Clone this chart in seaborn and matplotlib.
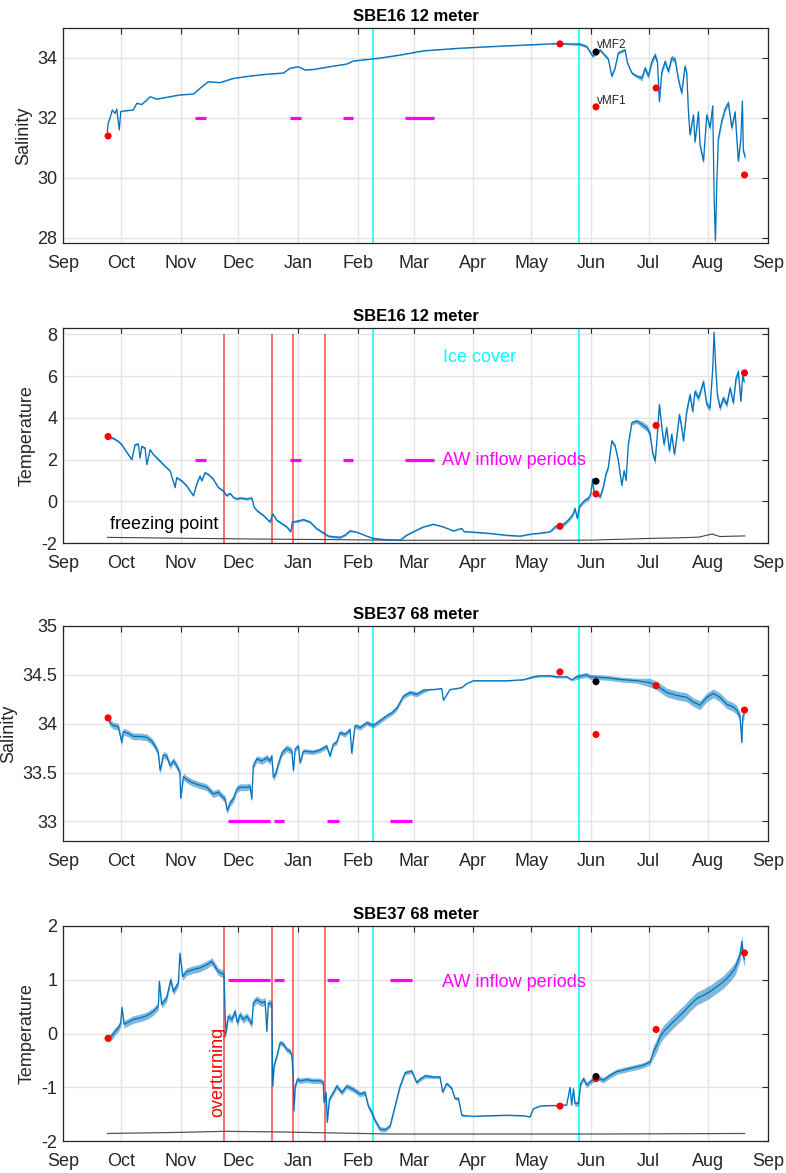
import numpy as np
import pandas as pd
import matplotlib
matplotlib.use("Agg")
import matplotlib.pyplot as plt
import matplotlib.dates as mdates
from matplotlib.ticker import FuncFormatter
import seaborn as sns

# ---------------------------------------------------------------- time axis
START = pd.Timestamp("2015-09-01")
END = pd.Timestamp("2016-09-01")

# ---------------------------------------------------------------- SBE16, 12 m salinity (days since 1 Sep)
sal12_day = [23.0, 23.5, 24.4, 25.6, 27.0, 27.9, 29.2, 30.0, 36.5, 38.3, 40.9, 43.5, 45.2, 48.7, 53.8,
             60.7, 67.7, 71.1, 75.4, 81.5, 88.4, 97.1, 105.8, 114.4, 117.9, 122.2, 125.6, 130.0, 140.3,
             147.3, 150.7, 157.7, 164.6, 175.0, 182.8, 187.1, 204.4, 221.7, 239.0, 256.3, 268.4, 271.9,
             275.0, 278.8, 283.1, 284.9, 286.6, 288.3, 291.8, 293.0, 295.3, 297.9, 300.5, 302.2, 303.9,
             305.7, 307.4, 308.6, 309.6, 310.9, 312.6, 314.3, 316.0, 317.8, 319.5, 321.2, 322.9, 323.8,
             324.7, 325.5, 327.3, 328.1, 329.9, 330.7, 332.5, 334.2, 335.9, 337.3, 338.0, 338.7, 339.4,
             340.2, 342.0, 343.7, 345.4, 347.2, 348.9, 350.6, 351.9, 352.7, 353.2, 354.1]
sal12_val = [31.53, 31.83, 32.0, 32.27, 32.15, 32.3, 31.6, 32.22, 32.27, 32.49, 32.45, 32.6, 32.71, 32.63,
             32.69, 32.77, 32.8, 32.99, 33.21, 33.18, 33.32, 33.4, 33.46, 33.5, 33.66, 33.71, 33.6, 33.62,
             33.73, 33.8, 33.9, 33.95, 34.0, 34.1, 34.19, 34.24, 34.32, 34.38, 34.43, 34.48, 34.46, 34.38,
             34.06, 34.27, 33.96, 33.39, 33.67, 34.17, 34.27, 33.84, 33.5, 33.39, 33.33, 33.66, 33.4,
             33.88, 34.1, 33.85, 32.55, 33.55, 33.88, 33.55, 34.0, 33.94, 33.28, 32.83, 33.72, 33.5,
             32.2, 31.44, 32.1, 31.2, 32.2, 31.1, 30.56, 32.1, 31.67, 32.4, 29.44, 27.9, 29.8, 31.3,
             31.9, 32.3, 32.5, 31.67, 32.2, 30.56, 31.3, 32.56, 30.9, 30.7]
sal12_spread_edges = [0, 265, 300, 400]
sal12_spread = [0.015, 0.05, 0.1]

# ---------------------------------------------------------------- SBE16, 12 m temperature
tem12_day = [23.2, 26.1, 28.7, 30.5, 32.2, 33.9, 35.7, 37.4, 39.1, 40.0, 40.9, 42.6, 43.5, 45.2, 46.9,
             48.7, 52.1, 55.6, 58.2, 59.0, 61.6, 64.2, 65.9, 67.7, 69.4, 71.1, 72.0, 73.7, 75.4, 78.0,
             80.6, 83.2, 84.9, 86.7, 88.4, 90.2, 91.9, 95.4, 98.0, 99.2, 100.6, 104.0, 107.5, 108.9,
             111.0, 113.6, 116.2, 118.2, 119.1, 121.3, 124.8, 128.2, 131.7, 135.1, 137.7, 140.3, 143.8,
             146.4, 149.0, 151.6, 154.2, 157.7, 161.1, 166.3, 175.0, 178.5, 182.8, 187.1, 192.3, 197.5,
             202.6, 207.0, 208.2, 213.0, 221.7, 230.4, 237.3, 242.5, 249.4, 252.9, 255.5, 258.0, 260.6,
             263.2, 265.0, 265.8, 267.0, 268.1, 269.3, 271.0, 272.7, 274.0, 275.0, 275.7, 277.1, 278.8,
             280.5, 281.9, 283.1, 284.9, 286.6, 288.3, 290.1, 291.3, 292.3, 293.5, 295.3, 297.9, 300.5,
             303.1, 304.8, 306.2, 307.4, 308.3, 309.6, 310.9, 312.0, 313.4, 314.8, 316.0, 317.4, 318.6,
             320.0, 321.2, 322.1, 323.8, 325.5, 326.9, 328.1, 329.9, 332.5, 334.2, 335.9, 337.3, 338.0,
             338.7, 339.7, 341.1, 342.8, 344.6, 346.3, 348.0, 349.4, 350.6, 351.9, 352.9, 353.6]
tem12_val = [3.07, 3.02, 2.87, 2.71, 2.47, 2.24, 2.0, 2.71, 2.74, 2.08, 2.63, 2.55, 1.76, 2.47, 2.24,
             2.08, 1.76, 1.45, 0.66, 1.13, 0.98, 0.74, 0.5, 0.27, 0.82, 1.21, 0.98, 1.37, 1.29, 1.06,
             0.66, 0.5, 0.27, 0.38, 0.19, 0.11, 0.16, 0.11, 0.16, -0.28, -0.44, -0.68, -0.99, -0.6,
             -0.91, -1.07, -1.23, -1.46, -0.99, -0.96, -0.88, -0.99, -1.31, -1.51, -1.67, -1.7, -1.73,
             -1.62, -1.42, -1.46, -1.54, -1.67, -1.78, -1.83, -1.86, -1.62, -1.42, -1.23, -1.1, -1.23,
             -1.42, -1.3, -1.45, -1.48, -1.54, -1.63, -1.67, -1.58, -1.51, -1.46, -1.22, -1.18, -1.06,
             -0.82, -0.58, -0.35, -0.82, -0.27, -0.11, 0.05, 0.13, 0.36, 1.07, 0.36, 0.44, 0.2,
             0.68, 1.31, 1.63, 2.89, 2.65, 1.94, 0.76, 1.47, 1.0, 2.73, 3.76, 3.84, 3.68,
             3.52, 3.21, 2.26, 1.94, 2.89, 4.63, 3.52, 2.73, 3.52, 2.41, 3.21, 2.26, 3.05,
             4.15, 3.52, 2.89, 4.31, 5.1, 4.31, 5.26, 4.94, 5.73, 4.63, 4.47, 6.37, 8.1,
             6.68, 5.10, 4.47, 4.94, 4.63, 5.42, 4.71, 5.89, 6.21, 4.79, 6.05, 5.73]
tem12_spread_edges = [0, 150, 255, 300, 400]
tem12_spread = [0.06, 0.03, 0.1, 0.16]

# freezing point at 12 m
frz12_day = [23, 60, 100, 140, 175, 220, 260, 275, 290, 305, 320, 330, 337, 341, 354]
frz12_val = [-1.73, -1.77, -1.81, -1.84, -1.87, -1.87, -1.87, -1.86, -1.82, -1.78, -1.75, -1.72,
             -1.57, -1.69, -1.66]

# ---------------------------------------------------------------- SBE37, 68 m salinity
sal68_day = [23.5, 24.4, 26.1, 28.7, 30.5, 31.3, 33.9, 36.5, 40.0, 43.5, 46.1, 47.8, 49.5, 50.4, 52.1,
             53.8, 55.6, 57.3, 59.0, 60.7, 61.1, 62.5, 64.2, 66.8, 71.1, 74.6, 78.0, 80.6, 82.4, 84.1,
             85.3, 86.7, 88.4, 90.2, 91.9, 95.4, 97.1, 98.0, 98.8, 100.6, 103.2, 105.8, 107.5, 108.4,
             109.2, 110.6, 111.8, 113.6, 116.2, 118.8, 119.6, 120.5, 122.2, 123.1, 124.8, 130.0, 133.4,
             136.9, 138.6, 140.3, 142.1, 143.8, 146.4, 149.0, 149.9, 151.6, 154.2, 157.7, 161.1, 164.6,
             168.1, 170.7, 173.3, 176.7, 180.2, 183.6, 187.1, 190.5, 192.3, 196.6, 197.5, 200.9, 204.4,
             207.0, 209.6, 213.0, 221.7, 230.4, 239.0, 244.2, 247.7, 252.9, 256.3, 261.5, 264.1, 266.7,
             271.9, 273.6, 282.3, 290.9, 297.9, 304.8, 308.3, 313.4, 318.6, 323.8, 327.3, 330.7, 334.2,
             337.6, 341.1, 344.6, 348.0, 349.8, 351.5, 352.4, 352.9, 353.6]
sal68_val = [34.06, 34.01, 33.98, 33.97, 33.81, 33.92, 33.9, 33.87, 33.87, 33.86, 33.82, 33.77, 33.7,
             33.52, 33.68, 33.67, 33.57, 33.62, 33.57, 33.5, 33.24, 33.46, 33.43, 33.4, 33.37, 33.35,
             33.28, 33.3, 33.26, 33.23, 33.11, 33.19, 33.23, 33.33, 33.35, 33.35, 33.36, 33.23, 33.57,
             33.64, 33.62, 33.65, 33.62, 33.67, 33.45, 33.5, 33.59, 33.7, 33.75, 33.72, 33.52, 33.74,
             33.77, 33.6, 33.72, 33.71, 33.73, 33.77, 33.67, 33.79, 33.81, 33.91, 33.89, 33.94, 33.7,
             33.98, 33.96, 34.01, 33.98, 34.03, 34.08, 34.11, 34.16, 34.28, 34.32, 34.3, 34.34, 34.35,
             34.35, 34.36, 34.24, 34.35, 34.36, 34.37, 34.41, 34.44, 34.44, 34.44, 34.45, 34.48, 34.49,
             34.49, 34.48, 34.48, 34.45, 34.48, 34.5, 34.48, 34.47, 34.45, 34.44, 34.42, 34.39, 34.32,
             34.29, 34.27, 34.22, 34.19, 34.27, 34.31, 34.27, 34.2, 34.17, 34.14, 34.07, 33.81, 34.07,
             34.1]
sal68_spread_edges = [0, 84, 120, 160, 190, 240, 265, 300, 400]
sal68_spread = [0.035, 0.035, 0.025, 0.025, 0.005, 0.012, 0.025, 0.045]

# ---------------------------------------------------------------- SBE37, 68 m temperature
tem68_day = [23.5, 25.3, 27.0, 28.7, 30.0, 30.6, 31.7, 33.1, 36.5, 40.0, 43.5, 46.9, 49.5, 50.0, 51.2,
             53.8, 55.9, 57.3, 59.9, 60.7, 62.1, 64.2, 67.7, 71.1, 74.6, 77.2, 78.9, 80.6, 82.4, 83.6,
             84.1, 84.6, 85.8, 87.6, 89.3, 90.5, 91.9, 93.6, 95.4, 97.1, 98.0, 98.8, 100.6, 103.2,
             104.9, 105.8, 106.6, 108.4, 108.9, 109.6, 111.0, 112.7, 114.4, 116.2, 117.9, 118.8, 119.6,
             119.9, 120.6, 121.7, 123.1, 126.5, 130.0, 133.4, 135.1, 135.5, 136.6, 137.2, 138.3, 140.3,
             142.1, 144.7, 147.3, 150.7, 154.2, 156.8, 158.5, 160.3, 162.0, 164.6, 167.2, 169.8, 172.4,
             175.0, 177.6, 181.0, 183.6, 185.4, 188.0, 192.3, 195.7, 197.1, 199.2, 201.8, 203.5, 205.3,
             207.0, 208.7, 213.0, 221.7, 230.4, 239.0, 242.5, 244.2, 247.7, 252.9, 256.3, 261.5, 263.2,
             264.1, 265.0, 265.8, 267.6, 268.8, 270.2, 271.9, 273.6, 277.1, 280.5, 284.0, 287.5, 290.9,
             294.4, 297.9, 301.3, 304.8, 306.5, 308.3, 310.0, 311.7, 315.2, 318.6, 322.1, 325.5, 329.0,
             332.5, 335.9, 339.4, 342.8, 346.3, 348.9, 351.5, 352.4, 353.2, 353.9]
tem68_val = [-0.1, -0.05, 0.04, 0.1, 0.2, 0.48, 0.17, 0.2, 0.26, 0.29, 0.33, 0.41, 0.51, 0.97, 0.54,
             0.66, 1.0, 0.78, 0.94, 1.49, 1.06, 1.15, 1.19, 1.22, 1.28, 1.34, 1.25, 1.15, 1.12, 1.09,
             0.44, 0.01, 0.32, 0.26, 0.41, 0.2, 0.35, 0.26, 0.32, 0.23, 0.17, 0.57, 0.63, 0.57, 0.6,
             0.04, 0.57, 0.54, -0.98, -0.6, -0.42, -0.17, -0.2, -0.3, -0.33, -0.42, -0.85, -1.44,
             -0.98, -0.85, -0.88, -0.86, -0.88, -0.88, -0.91, -1.28, -1.1, -1.65, -1.22, -1.1, -0.98,
             -1.1, -0.98, -1.04, -1.13, -1.1, -1.35, -1.47, -1.62, -1.78, -1.79, -1.72, -1.35, -0.98,
             -0.73, -0.7, -0.91, -0.85, -0.79, -0.81, -0.81, -1.09, -0.93, -1.02, -1.21, -1.21, -1.52,
             -1.53, -1.54, -1.53, -1.52, -1.53, -1.55, -1.4, -1.35, -1.34, -1.34, -1.33, -1.0, -1.33,
             -1.03, -1.31, -1.3, -0.93, -0.84, -0.96, -0.9, -0.81, -0.87, -0.78, -0.71, -0.68, -0.65,
             -0.62, -0.59, -0.53, -0.34, -0.22, -0.06, 0.03, 0.16, 0.28, 0.4, 0.53, 0.65, 0.71, 0.78,
             0.87, 0.96, 1.09, 1.21, 1.46, 1.71, 1.42, 1.38]
tem68_spread_edges = [0, 84, 109, 165, 190, 208, 265, 305, 400]
tem68_spread = [0.07, 0.07, 0.05, 0.04, 0.03, 0.01, 0.05, 0.12]

# freezing point at 68 m
frz68_day = [23, 60, 84, 110, 140, 170, 220, 280, 354]
frz68_val = [-1.86, -1.84, -1.82, -1.83, -1.85, -1.87, -1.87, -1.87, -1.86]

# ---------------------------------------------------------------- CTD casts (red) and the vMF2 cast (black)
cast_day = [23.4, 258.0, 276.7, 307.9, 353.8]
vmf2_day = [276.7]
cast_sal12 = [31.4, 34.47, 32.37, 33.0, 30.1]
vmf2_sal12 = [34.2]
cast_tem12 = [3.1, -1.2, 0.35, 3.63, 6.15]
vmf2_tem12 = [0.96]
cast_sal68 = [34.06, 34.53, 33.89, 34.39, 34.14]
vmf2_sal68 = [34.43]
cast_tem68 = [-0.09, -1.35, -0.84, 0.075, 1.5]
vmf2_tem68 = [-0.8]

# ---------------------------------------------------------------- events
ice_day = [161.0, 267.9]                       # start / end of ice cover
overturn_day = [83.6, 108.5, 119.4, 136.0]     # overturning events
aw12_start = [68.5, 117.9, 145.4, 177.6]       # AW inflow periods, 12 m
aw12_end = [74.2, 123.6, 150.6, 192.6]
aw68_start = [85.8, 109.6, 137.1, 169.8]       # AW inflow periods, 68 m
aw68_end = [107.5, 114.6, 143.5, 181.2]

# ---------------------------------------------------------------- styling
sns.set_theme(style="whitegrid")
plt.rcParams["font.family"] = ["Liberation Sans", "DejaVu Sans"]

BLUE = "#0072BD"
DARK = "#262626"
FS = 13


def to_dates(days):
    return START + pd.to_timedelta(np.asarray(days, dtype=float), unit="D")


def spread_for(days, edges, widths):
    idx = np.searchsorted(edges, np.asarray(days), side="right") - 1
    return np.asarray(widths)[np.clip(idx, 0, len(widths) - 1)]


fig = plt.figure(figsize=(7.86, 11.73), dpi=100)
left, width, height = 63 / 786, 705 / 786, 215 / 1173
bottoms = [1 - 243 / 1173, 1 - 543 / 1173, 1 - 841 / 1173, 1 - 1141 / 1173]
axes = [fig.add_axes([left, b, width, height]) for b in bottoms]


def draw_series(ax, days, vals, edges, widths):
    d = to_dates(days)
    v = np.asarray(vals)
    s = spread_for(days, edges, widths)
    ax.fill_between(d, v - s, v + s, color=BLUE, alpha=0.5, lw=0, zorder=3)
    sns.lineplot(x=d, y=v, ax=ax, color=BLUE, lw=0.9, estimator=None, sort=False, zorder=4)


def draw_casts(ax, red_vals, black_vals):
    sns.scatterplot(x=to_dates(cast_day), y=red_vals, ax=ax, color="#ff0000", s=26,
                    edgecolor="none", zorder=6)
    sns.scatterplot(x=to_dates(vmf2_day), y=black_vals, ax=ax, color="black", s=26,
                    edgecolor="none", zorder=7)


def draw_aw(ax, starts, ends, level):
    for a, b in zip(starts, ends):
        ax.plot(to_dates([a, b]), [level, level], color="#ff00ff", lw=2.3,
                solid_capstyle="butt", zorder=5)


def draw_ice(ax):
    for d in ice_day:
        ax.axvline(to_dates([d])[0], color="#00ffff", lw=1.1, zorder=2)


def draw_overturn(ax, y0, y1):
    ax.vlines(to_dates(overturn_day), y0, y1, color="#ff3030", alpha=0.7, lw=1.4, zorder=2)


def finish(ax, title, ylabel, ylim, yticks):
    ax.set_xlim(START, END)
    ax.set_ylim(*ylim)
    ax.set_yticks(yticks)
    ax.yaxis.set_major_formatter(FuncFormatter(lambda v, p: f"{v:g}"))
    ax.xaxis.set_major_locator(mdates.MonthLocator())
    ax.xaxis.set_major_formatter(mdates.DateFormatter("%b"))
    ax.set_title(title, fontsize=12, fontweight="bold", color="black", pad=5)
    ax.set_ylabel(ylabel, fontsize=FS, color=DARK, labelpad=4)
    ax.set_xlabel("")
    ax.grid(True, color="#e4e4e4", lw=1.0, zorder=0)
    ax.set_facecolor("white")
    for sp in ax.spines.values():
        sp.set_color(DARK)
        sp.set_linewidth(0.9)
        sp.set_visible(True)
    ax.tick_params(direction="in", top=True, right=True, length=4, width=0.8,
                   color=DARK, labelcolor=DARK, labelsize=FS)
    ax.tick_params(axis="x", pad=9)
    ax.tick_params(axis="y", pad=4)


# ---- panel 1: salinity 12 m
ax = axes[0]
draw_ice(ax)
draw_aw(ax, aw12_start, aw12_end, 32)
draw_series(ax, sal12_day, sal12_val, sal12_spread_edges, sal12_spread)
draw_casts(ax, cast_sal12, vmf2_sal12)
ax.text(to_dates([277.3])[0], 34.43, "vMF2", fontsize=8.5, color=DARK, va="center", ha="left", zorder=8)
ax.text(to_dates([277.3])[0], 32.57, "vMF1", fontsize=8.5, color=DARK, va="center", ha="left", zorder=8)
finish(ax, "SBE16 12 meter", "Salinity", (27.83, 35.0), [28, 30, 32, 34])

# ---- panel 2: temperature 12 m
ax = axes[1]
draw_ice(ax)
draw_overturn(ax, -2, 8)
draw_aw(ax, aw12_start, aw12_end, 2)
sns.lineplot(x=to_dates(frz12_day), y=frz12_val, ax=ax, color="#444444", lw=0.8,
             estimator=None, sort=False, zorder=3)
draw_series(ax, tem12_day, tem12_val, tem12_spread_edges, tem12_spread)
draw_casts(ax, cast_tem12, vmf2_tem12)
ax.text(to_dates([197.3])[0], 6.9, "Ice cover", fontsize=FS, color="#00ffff", va="center", ha="left")
ax.text(to_dates([196.8])[0], 1.95, "AW inflow periods", fontsize=FS, color="#ff00ff",
        va="center", ha="left")
ax.text(to_dates([24.4])[0], -1.1, "freezing point", fontsize=FS, color="black", va="center", ha="left")
finish(ax, "SBE16 12 meter", "Temperature", (-2, 8.3), [-2, 0, 2, 4, 6, 8])

# ---- panel 3: salinity 68 m
ax = axes[2]
draw_ice(ax)
draw_aw(ax, aw68_start, aw68_end, 33)
draw_series(ax, sal68_day, sal68_val, sal68_spread_edges, sal68_spread)
draw_casts(ax, cast_sal68, vmf2_sal68)
finish(ax, "SBE37 68 meter", "Salinity", (32.8, 35.0), [33, 33.5, 34, 34.5, 35])

# ---- panel 4: temperature 68 m
ax = axes[3]
draw_ice(ax)
draw_overturn(ax, -2, 2)
draw_aw(ax, aw68_start, aw68_end, 1)
sns.lineplot(x=to_dates(frz68_day), y=frz68_val, ax=ax, color="#555555", lw=0.9,
             estimator=None, sort=False, zorder=3)
draw_series(ax, tem68_day, tem68_val, tem68_spread_edges, tem68_spread)
draw_casts(ax, cast_tem68, vmf2_tem68)
ax.text(to_dates([196.8])[0], 0.95, "AW inflow periods", fontsize=FS, color="#ff00ff",
        va="center", ha="left")
ax.text(to_dates([80.3])[0], -0.71, "overturning", fontsize=FS, color="#ff0000", rotation=90,
        va="center", ha="center")
finish(ax, "SBE37 68 meter", "Temperature", (-2, 2), [-2, -1, 0, 1, 2])

fig.savefig("out.png", dpi=100, facecolor="white")
